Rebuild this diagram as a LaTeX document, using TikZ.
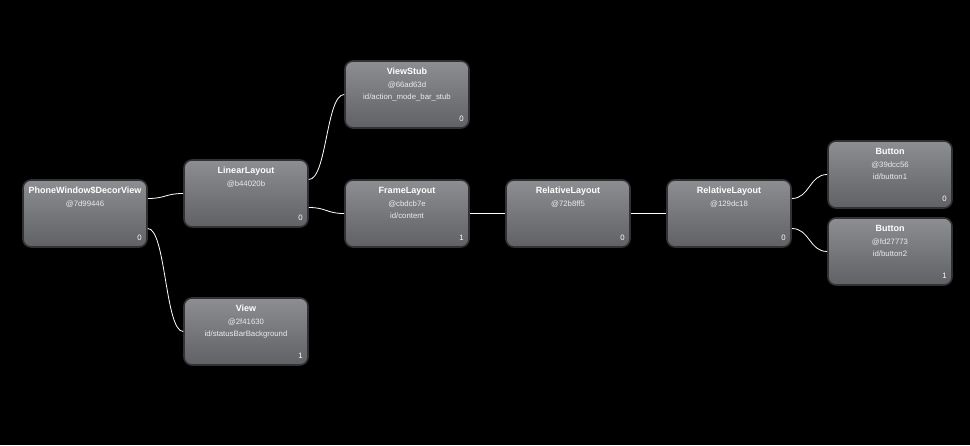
\documentclass[tikz,border=0pt]{standalone}
\usepackage{fontspec}
\setmainfont{Liberation Sans}
\definecolor{boxtop}{RGB}{141,142,146}
\definecolor{boxbot}{RGB}{96,97,100}
\definecolor{boxline}{RGB}{50,50,52}
\definecolor{subtxt}{RGB}{235,235,235}
\tikzset{
  viewbox/.style={rounded corners=8pt, top color=boxtop, bottom color=boxbot,
    draw=boxline, line width=1.6pt, minimum width=124pt, minimum height=67pt, inner sep=0pt},
  ttl/.style={text=white, font=\fontsize{9}{10}\selectfont\bfseries, anchor=base, inner sep=0pt},
  sub/.style={text=subtxt, font=\fontsize{7.8}{9}\selectfont, anchor=base, inner sep=0pt},
  idx/.style={text=white, font=\fontsize{7.8}{9}\selectfont, anchor=base east, inner sep=0pt},
  wire/.style={draw=white, line width=0.8pt}
}
\newcommand\vnode[7]{%
  \node[viewbox] (#1) at (#2+62,#3+33.5) {};
  \node[ttl] (#1-t) at ([yshift=-14pt]#1.north) {#4};
  \node[sub] (#1-h) at ([yshift=-27pt]#1.north) {#5};
  \if\relax\detokenize{#6}\relax\else
  \node[sub] (#1-i) at ([yshift=-39.5pt]#1.north) {#6};\fi
  \node[idx] (#1-n) at ([xshift=-6pt,yshift=7pt]#1.south east) {#7};
}
\newcommand\curvewire[2]{%
  \draw[wire] (#1) .. controls +(18,0) and +(-18,0) .. (#2);
}
\begin{document}
\begin{tikzpicture}[x=1pt,y=-1pt]
\fill[black] (0,0) rectangle (970,445);
\useasboundingbox (0,0) rectangle (970,445);
\vnode{pw}{23}{180}{PhoneWindow\$DecorView}{@7d99446}{}{0}
\vnode{ll}{184}{160}{LinearLayout}{@b44020b}{}{0}
\vnode{vs}{345}{61}{ViewStub}{@66ad63d}{id/action\_mode\_bar\_stub}{0}
\vnode{fl}{345}{180}{FrameLayout}{@cbdcb7e}{id/content}{1}
\vnode{rla}{506}{180}{RelativeLayout}{@72b8ff5}{}{0}
\vnode{rlb}{667}{180}{RelativeLayout}{@129dc18}{}{0}
\vnode{ba}{828}{141}{Button}{@39dcc56}{id/button1}{0}
\vnode{bb}{828}{218}{Button}{@fd27773}{id/button2}{1}
\vnode{vw}{184}{298}{View}{@2f41630}{id/statusBarBackground}{1}
% connection points
\coordinate (pw-o1) at ([yshift=15pt]pw.east);
\coordinate (pw-o2) at ([yshift=-15pt]pw.east);
\coordinate (ll-o1) at ([yshift=14pt]ll.east);
\coordinate (ll-o2) at ([yshift=-14pt]ll.east);
\coordinate (rlb-o1) at ([yshift=15pt]rlb.east);
\coordinate (rlb-o2) at ([yshift=-15pt]rlb.east);
\curvewire{pw-o1}{ll.west}
\curvewire{pw-o2}{vw.west}
\curvewire{ll-o1}{vs.west}
\curvewire{ll-o2}{fl.west}
\draw[wire] (fl.east) -- (rla.west);
\draw[wire] (rla.east) -- (rlb.west);
\curvewire{rlb-o1}{ba.west}
\curvewire{rlb-o2}{bb.west}
\end{tikzpicture}
\end{document}
